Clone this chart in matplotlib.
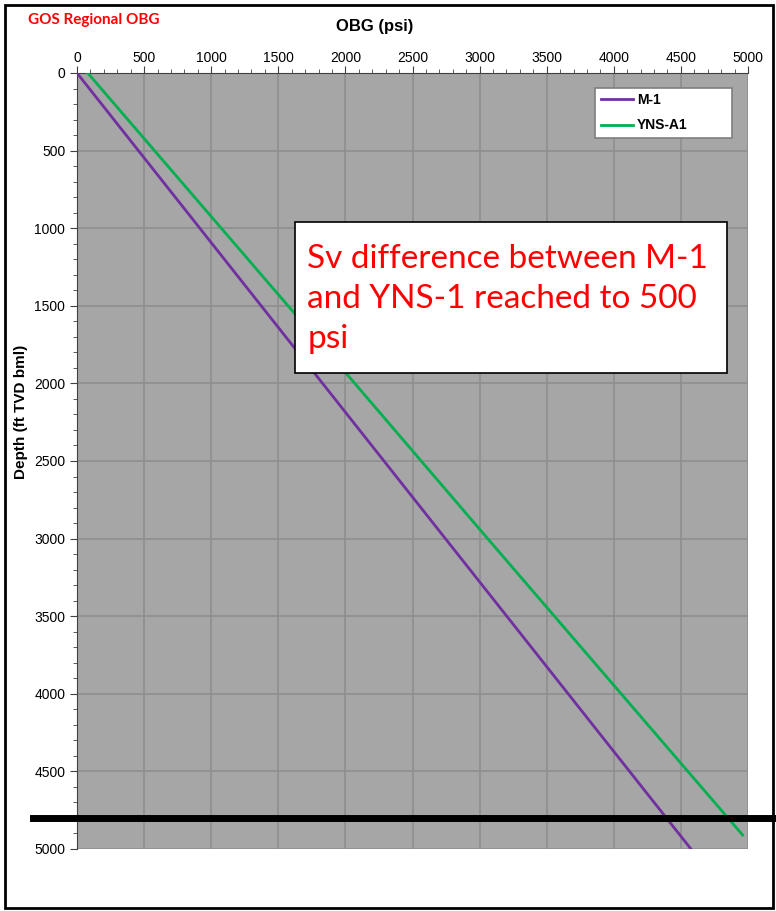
import matplotlib
matplotlib.use('Agg')
import matplotlib.pyplot as plt
from matplotlib.ticker import MultipleLocator
from matplotlib.patches import Rectangle

# データ
m1_depth = [0, 1000, 2000, 3000, 4000, 5000]
m1_obg = [0, 915, 1830, 2745, 3660, 4575]
yns_depth = [0, 1000, 2000, 3000, 4000, 4910]
yns_obg = [80, 1075, 2070, 3060, 4055, 4960]
marker_depth = 4800

x_ticks = [0, 500, 1000, 1500, 2000, 2500, 3000, 3500, 4000, 4500, 5000]
y_ticks = [0, 500, 1000, 1500, 2000, 2500, 3000, 3500, 4000, 4500, 5000]

plt.rcParams['font.family'] = ['Liberation Sans', 'DejaVu Sans']

fig = plt.figure(figsize=(7.76, 9.11), dpi=100)
ax = fig.add_axes([77/776, 1-849/911, 671/776, 776/911])
ax.set_facecolor('#a6a6a6')

ax.plot(m1_obg, m1_depth, color='#7030a0', lw=2, label='M-1', zorder=3)
ax.plot(yns_obg, yns_depth, color='#00b050', lw=2, label='YNS-A1', zorder=3)

ax.set_xlim(0, 5000)
ax.set_ylim(5000, 0)
ax.set_xticks(x_ticks)
ax.set_yticks(y_ticks)
ax.xaxis.set_minor_locator(MultipleLocator(100))
ax.yaxis.set_minor_locator(MultipleLocator(100))
ax.xaxis.tick_top()
ax.tick_params(which='major', length=5, labelsize=10, color='#404040')
ax.tick_params(axis='x', which='major', pad=0.5)
ax.tick_params(which='minor', length=3, color='#404040')
ax.grid(True, which='major', color='#8e8e8e', lw=1.2)
for s in ['right', 'bottom']:
    ax.spines[s].set_visible(False)
for s in ['left', 'top']:
    ax.spines[s].set_color('#404040')

ax.set_ylabel('Depth (ft TVD bml)', fontsize=11, fontweight='bold',
              family=['Liberation Sans Narrow', 'Liberation Sans'])
ax.yaxis.set_label_coords(-0.073, 0.563)
fig.text(375/776, 1-26/911, 'OBG (psi)', ha='center', va='center',
         fontsize=12, fontweight='bold')
fig.text(28/776, 1-20/911, 'GOS Regional OBG', ha='left', va='center',
         fontsize=11, fontweight='bold', color='red', family=['Lato'])

leg = ax.legend(loc='upper left', bbox_to_anchor=(0.762, 0.915, 0.225, 0.075),
                mode='expand', prop={'weight': 'bold', 'size': 10}, fancybox=False,
                framealpha=1, edgecolor='#7f7f7f', handlelength=2.3,
                handletextpad=0.3, borderpad=0.4, labelspacing=0.8)
leg.get_frame().set_linewidth(1.2)

# 注記ボックス
ax.add_patch(Rectangle((0.325, 0.613), 0.644, 0.195, transform=ax.transAxes,
                       facecolor='white', edgecolor='black', lw=1.2, zorder=5))
ax.text(0.343, 0.709, 'Sv difference between M-1\nand YNS-1 reached to 500\npsi',
        transform=ax.transAxes, ha='left', va='center', fontsize=24,
        color='red', family=['Lato'], linespacing=1.42, zorder=6)

# 太い黒線
ax.plot([-0.065, 1.05], [marker_depth, marker_depth], color='black', lw=5,
        transform=ax.get_yaxis_transform(), clip_on=False, zorder=7)

# 外枠
fig.patches.append(Rectangle((5/776, 3/911), 768/776, 903/911, transform=fig.transFigure,
                             fill=False, edgecolor='black', lw=2))

fig.savefig('out.png', dpi=100)
